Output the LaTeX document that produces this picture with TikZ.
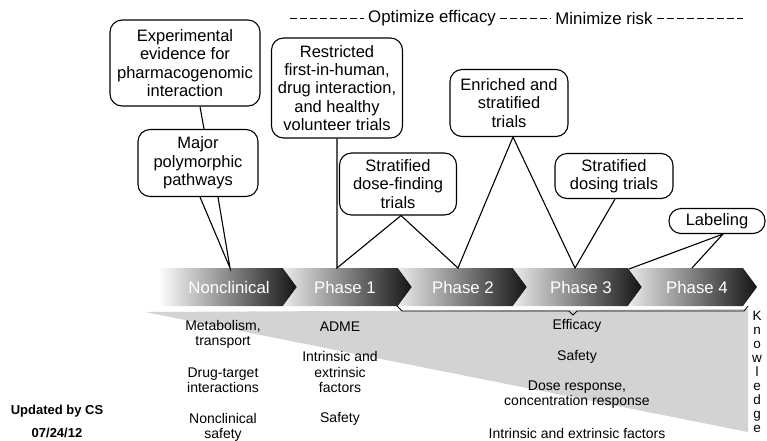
\documentclass[tikz,border=0pt]{standalone}
\usepackage{fontspec}
\setmainfont{Liberation Sans}
\usepackage{tikz}
\usetikzlibrary{calc}
\definecolor{wedgeGray}{HTML}{D3D3D3}

\begin{document}
\begin{tikzpicture}[x=1pt,y=-1pt,
        box/.style 2 args={draw,rounded corners=12pt,line width=1.1pt,align=center,
            inner sep=3pt,minimum width=#1,minimum height=#2,font=\fontsize{16.5}{18.3}\selectfont},
        chev/.style={shading=axis,left color=black!8,middle color=black!52,right color=black!92},
        phase/.style={text=white,font=\fontsize{16.8}{20}\selectfont},
        note/.style={align=center,font=\fontsize{14}{15.2}\selectfont},
        head/.style={font=\fontsize{16.8}{20}\selectfont,inner sep=4pt},
        link/.style={line width=1.1pt},
        dashline/.style={line width=1pt,dash pattern=on 7pt off 3pt}]
        \useasboundingbox (0,0) rectangle (767,440);
        \fill[wedgeGray] (145,312) -- (748,309) -- (748,432) -- cycle;
        \shade[chev,left color=white] (158,268) -- (283,268) -- (297,287) -- (283,306) -- (158,306) -- cycle;
        \foreach \l/\b in {283/398,398/513,513/628,628/743}
            \shade[chev] (\l,268) -- (\b,268) -- (\b+14,287) -- (\b,306) -- (\l,306) -- (\l+14,287) -- cycle;
        \draw[line width=0.8pt] (397,306) -- (402,311) -- (569,311) -- (573,315) -- (577,311) -- (744,311) -- (748,306);
        \node[phase] (nonclin) at (229,287) {Nonclinical};
        \node[phase] (ph1) at (345,287) {Phase 1};
        \node[phase] (ph2) at (463,287) {Phase 2};
        \node[phase] (ph3) at (581,287) {Phase 3};
        \node[phase] (ph4) at (697,287) {Phase 4};
        \coordinate (nctop) at (230,268);
        \coordinate (p1top) at (337,268);
        \coordinate (p2top) at (458,268);
        \coordinate (p3top) at (575,268);
        \coordinate (p4start) at (629,269);
        \coordinate (p4top) at (692,268);

        \node[box={150pt}{86pt}] (expev) at (185,63) {Experimental\\evidence for\\pharmacogenomic\\interaction};
        \node[box={120pt}{67pt}] (poly) at (198,163) {Major\\polymorphic\\pathways};
        \node[box={131pt}{100pt}] (restr) at (337,88) {Restricted\\first-in-human,\\drug interaction,\\and healthy\\volunteer trials};
        \node[box={117pt}{62pt}] (dosef) at (398,184) {Stratified\\dose-finding\\trials};
        \node[box={118pt}{67pt}] (enrich) at (509,103) {Enriched and\\stratified\\trials};
        \node[box={118pt}{45pt}] (sdose) at (614,176) {Stratified\\dosing trials};
        \node[box={96pt}{25pt}] (label) at (717,221) {Labeling};

        \draw[link] ($(expev.south)+(15,0)$) -- ($(poly.north)+(6,0)$);
        \draw[link] ($(poly.south)+(2,0)$) -- (nctop) -- ($(poly.south)+(20,0)$);
        \draw[link] (restr.south) -- (p1top) -- ($(dosef.south)+(3,0)$) -- (p2top)
            -- ($(enrich.south)+(4,0)$) -- (p3top) -- ($(sdose.south)+(1,0)$);
        \draw[link] (p4start) -- ($(label.south)+(6,0)$) -- (p4top);

        \coordinate (hleft) at (290,18);
        \coordinate (hright) at (743,18);
        \node[head] (optim) at (432,18) {Optimize efficacy};
        \node[head] (minim) at (604,18) {Minimize risk};
        \draw[dashline] (hleft) -- (optim.west);
        \draw[dashline] (optim.east) -- (minim.west);
        \draw[dashline] (minim.east) -- (hright);

        \node[note] (metab) at (223,334) {Metabolism,\\transport};
        \node[note] (dtarget) at (223,380) {Drug-target\\interactions};
        \node[note] (ncsafe) at (223,427) {Nonclinical\\safety};
        \node[note] (adme) at (340,327) {ADME};
        \node[note] (intr1) at (340,372) {Intrinsic and\\extrinsic\\factors};
        \node[note] (safe1) at (340,419) {Safety};
        \node[note] (effic) at (577,326) {Efficacy};
        \node[note] (safe3) at (577,357) {Safety};
        \node[note] (doser) at (577,395) {Dose response,\\concentration response};
        \node[note] (intr3) at (577,433) {Intrinsic and extrinsic factors};
        \node[note,font=\fontsize{13.5}{13.9}\selectfont] (know) at (757,372) {K\\n\\o\\w\\l\\e\\d\\g\\e};

        \node[font=\bfseries\fontsize{13}{15}\selectfont] (upd) at (57,411) {Updated by CS};
        \node[font=\bfseries\fontsize{13}{15}\selectfont] (date) at (57,433) {07/24/12};
    \end{tikzpicture}
\end{document}
